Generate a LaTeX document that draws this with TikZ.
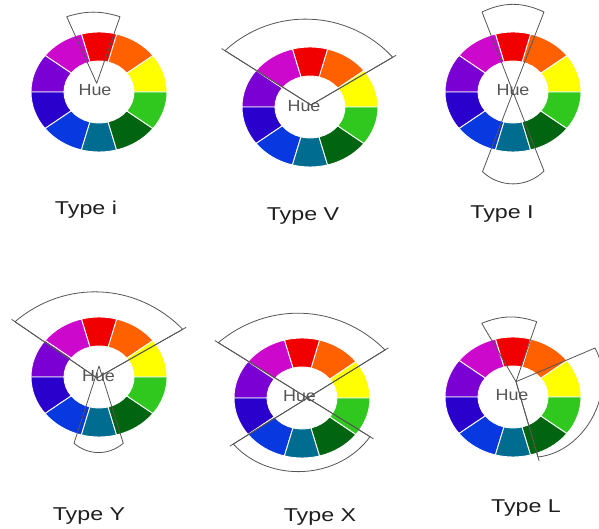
\documentclass[tikz,border=0pt]{standalone}
\usepackage{fontspec}
\setmainfont{Liberation Sans}
\definecolor{cYel}{HTML}{FFFF00}
\definecolor{cOra}{HTML}{FF6000}
\definecolor{cRed}{HTML}{F00000}
\definecolor{cMag}{HTML}{CC08CC}
\definecolor{cVio}{HTML}{7A00D4}
\definecolor{cInd}{HTML}{2A00CC}
\definecolor{cBlu}{HTML}{0838E0}
\definecolor{cTea}{HTML}{006C90}
\definecolor{cDgr}{HTML}{006410}
\definecolor{cGrn}{HTML}{30C81E}
\definecolor{lineGray}{HTML}{555555}
\tikzset{
  wedgeline/.style={draw=lineGray, line width=0.8pt, line join=round},
  huetext/.style={text=lineGray, font=\fontsize{16}{16}\selectfont, inner sep=0pt},
  typelabel/.style={font=\fontsize{18.6}{20}\selectfont, text=black!88, inner sep=0pt},
  ringseg/.style={draw=white, line width=0.9pt}
}
\newcommand{\huewheel}[2]{%
  \begin{scope}[shift={(#1,#2)}]
    \foreach \a/\b/\c in {0/37.5/cYel, 37.5/75/cOra, 75/105/cRed, 105/142.5/cMag, 142.5/180/cVio, 180/217.5/cInd, 217.5/255/cBlu, 255/285/cTea, 285/322.5/cDgr, 322.5/360/cGrn}{
      \path[ringseg, fill=\c] (\a:68pt and 60pt) arc[start angle=\a, end angle=\b, x radius=68pt, y radius=60pt]
        -- (\b:35pt and 31pt) arc[start angle=\b, end angle=\a, x radius=35pt, y radius=31pt] -- cycle;
    }
  \end{scope}}
\begin{document}
\begin{tikzpicture}[x=1pt,y=1pt]
\useasboundingbox[fill=white] (0,0) rectangle (599,529);

% wheels
\huewheel{99}{529-92}
\huewheel{310}{529-107}
\huewheel{513}{529-92}
\huewheel{99}{529-377}
\huewheel{302}{529-398}
\huewheel{513}{529-397}

% Hue texts
\node[huetext] (hue1) at (95,529-90) {\scalebox{1.12}[1]{Hue}};
\node[huetext] (hue2) at (304,529-106) {\scalebox{1.12}[1]{Hue}};
\node[huetext] (hue3) at (513,529-90) {\scalebox{1.12}[1]{Hue}};
\node[huetext] (hue4) at (98.5,529-376) {\scalebox{1.12}[1]{Hue}};
\node[huetext] (hue5) at (299.5,529-396) {\scalebox{1.12}[1]{Hue}};
\node[huetext] (hue6) at (512,529-395) {\scalebox{1.12}[1]{Hue}};

% Type i
\coordinate (a1) at (96.7,529-83.3);
\coordinate (r1) at (120,529-16.7);
\coordinate (l1) at (66.7,529-16.7);
\draw[wedgeline] (a1) -- (r1) to[bend right=17] (l1) -- cycle;

% Type V
\coordinate (a2) at (311,529-105);
\coordinate (r2) at (392.7,529-57.3);
\coordinate (l2) at (225,529-50.7);
\draw[wedgeline] (a2) -- (r2) to[bend right=45] (l2) -- cycle;
\draw[wedgeline, shorten >=-4pt] (a2) -- (r2);
\draw[wedgeline, shorten >=-4pt] (a2) -- (l2);

% Type I
\coordinate (a3) at (513,529-92);
\coordinate (r3) at (544,529-12);
\coordinate (l3) at (482,529-12);
\coordinate (bl3) at (482.5,529-171.7);
\coordinate (br3) at (544,529-171);
\draw[wedgeline] (a3) -- (r3) to[bend right=25] (l3) -- cycle;
\draw[wedgeline] (a3) -- (bl3) to[bend right=44] (br3) -- cycle;

% Type Y
\coordinate (a4) at (97,529-378);
\coordinate (r4) at (182.7,529-329.3);
\coordinate (l4) at (15,529-321.7);
\coordinate (b4) at (99,529-366);
\coordinate (bl4) at (74,529-443.3);
\coordinate (br4) at (123.3,529-443.3);
\draw[wedgeline] (a4) -- (r4) to[bend right=43] (l4) -- cycle;
\draw[wedgeline, shorten >=-4pt] (a4) -- (r4);
\draw[wedgeline, shorten >=-4pt] (a4) -- (l4);
\draw[wedgeline] (b4) -- (bl4) to[bend right=40] (br4) -- cycle;

% Type X
\coordinate (a5) at (307.5,529-398);
\coordinate (r5) at (385,529-350);
\coordinate (l5) at (218.3,529-342.7);
\coordinate (bl5) at (233.3,529-444);
\coordinate (br5) at (370,529-436.7);
\draw[wedgeline] (a5) -- (r5) to[bend right=42.5] (l5) -- cycle;
\draw[wedgeline] (a5) -- (bl5) to[bend right=51] (br5) -- cycle;
\foreach \p in {r5,l5,bl5,br5}{\draw[wedgeline, shorten >=-4pt] (a5) -- (\p);}

% Type L
\coordinate (a6) at (516,529-381.7);
\coordinate (r6) at (536.7,529-321.7);
\coordinate (l6) at (481.7,529-323.3);
\coordinate (lo6) at (538,529-457);
\coordinate (up6) at (595,529-348);
\draw[wedgeline] (a6) -- (r6) to[bend right=20] (l6) -- cycle;
\draw[wedgeline] (a6) -- (lo6) to[bend right=56] (up6) -- cycle;
\draw[wedgeline, shorten >=-4pt] (a6) -- (lo6);

% labels
\node[typelabel] (t1) at (86,529-210) {\scalebox{1.25}[1]{Type i}};
\node[typelabel] (t2) at (303,529-216) {\scalebox{1.25}[1]{Type V}};
\node[typelabel] (t3) at (502,529-214) {\scalebox{1.25}[1]{Type I}};
\node[typelabel] (t4) at (89,529-516) {\scalebox{1.25}[1]{Type Y}};
\node[typelabel] (t5) at (320,529-517) {\scalebox{1.25}[1]{Type X}};
\node[typelabel] (t6) at (526,529-508) {\scalebox{1.25}[1]{Type L}};
\end{tikzpicture}
\end{document}
